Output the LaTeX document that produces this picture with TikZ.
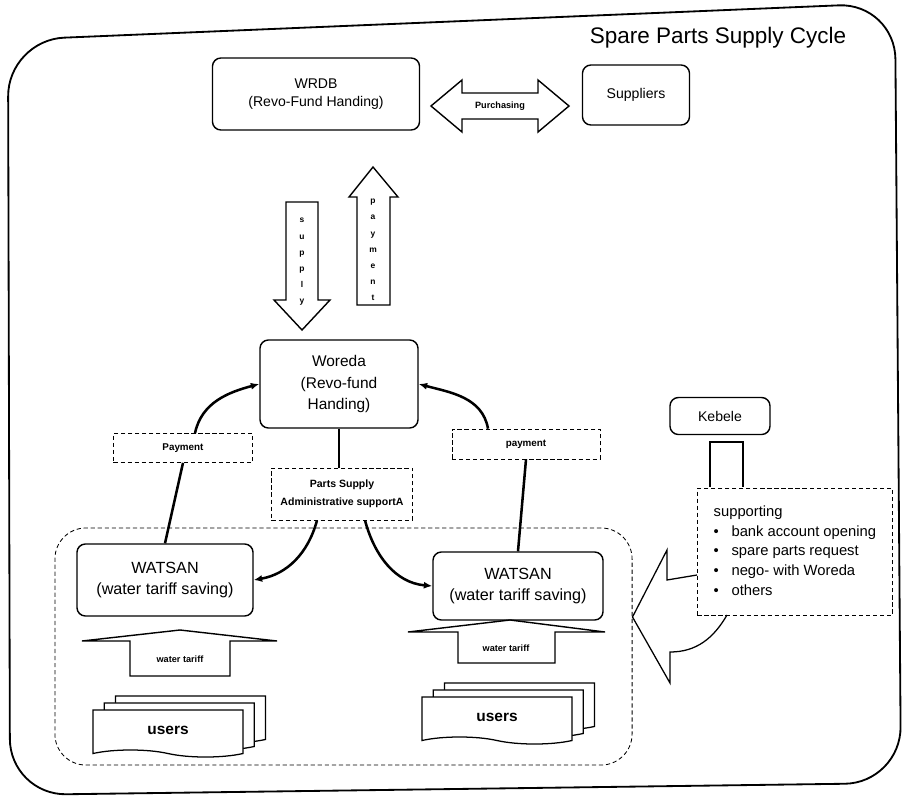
\documentclass[tikz,border=0pt]{standalone}
\usepackage{fontspec}
\setmainfont{Liberation Sans}
\usetikzlibrary{arrows.meta, shapes.symbols, shadows, calc}

\begin{document}
\begin{tikzpicture}[
    x=0.025cm, y=-0.025cm,
    font=\fontsize{10}{13}\selectfont,
    box/.style={draw, line width=1pt, rounded corners=6pt, align=center, inner sep=2pt},
    tagbox/.style={draw, densely dashed, line width=0.5pt, align=center, font=\fontsize{7}{10}\selectfont\bfseries},
    grpbox/.style={draw, densely dashed, line width=0.6pt, rounded corners=22pt},
    link/.style={line width=1.8pt},
    arrow/.style={link, -{Latex[length=6pt, width=5pt]}},
    block/.style={draw, line width=1pt, fill=white},
    spelled/.style={align=center, font=\fontsize{6}{11.5}\selectfont\bfseries},
    doc/.style={draw, line width=0.9pt, fill=white, tape, tape bend top=none,
        tape bend bottom=out and in, tape bend height=5pt,
        double copy shadow={shadow xshift=8pt, shadow yshift=5pt, line width=0.9pt},
        minimum width=3.75cm, minimum height=1.175cm, font=\fontsize{11}{13}\selectfont\bfseries},
]
\useasboundingbox (0,0) rectangle (903,797);

% outer frame
\draw[line width=1.3pt, rounded corners=40pt] (8,40) -- (895,3) -- (901,783) -- (10,795) -- cycle;
\node[font=\fontsize{16}{18}\selectfont] (title) at (718,38) {Spare Parts Supply Cycle};

% top level
\node[box, minimum width=5.175cm, minimum height=1.8cm] (wrdb) at (316,94) {WRDB\\(Revo-Fund Handing)};
\node[box, minimum width=2.675cm, minimum height=1.5cm] (suppliers) at (636,95) {Suppliers};
\draw[block] (431,106) -- (462,80) -- (462,93) -- (538,93) -- (538,80) -- (569,106)
    -- (538,132) -- (538,119) -- (462,119) -- (462,132) -- cycle;
\node[font=\fontsize{6.5}{8}\selectfont\bfseries] (purch) at (500,106) {Purchasing};

% supply / payment between WRDB and Woreda
\draw[block] (286,202) -- (318,202) -- (318,300) -- (330,300) -- (302,330) -- (274,300) -- (286,300) -- cycle;
\node[spelled] (supply) at (302,262) {s\\u\\p\\p\\l\\y};
\draw[block] (357,305) -- (357,197) -- (349,197) -- (373,167) -- (398,197) -- (390,197) -- (390,305) -- cycle;
\node[spelled] (pay) at (373,250) {p\\a\\y\\m\\e\\n\\t};

% Woreda level
\node[box, minimum width=3.95cm, minimum height=2.2cm, font=\fontsize{11}{15.5}\selectfont] (woreda) at (339,384) {Woreda\\(Revo-fund\\Handing)};
\node[tagbox, minimum width=3.475cm, minimum height=0.725cm] (payL) at (183,448) {Payment};
\node[tagbox, minimum width=3.7cm, minimum height=0.75cm] (payR) at (526,444) {payment};
\node[tagbox, minimum width=3.525cm, minimum height=1.3cm, font=\fontsize{7.5}{13}\selectfont\bfseries] (parts) at (342,494) {Parts Supply\\Administrative supportA};

% WATSAN group
\node[grpbox, minimum width=14.425cm, minimum height=5.925cm] (grp) at (343.5,646.5) {};
\node[box, minimum width=4.4cm, minimum height=1.8cm, font=\fontsize{11.5}{15.5}\selectfont] (watsanL) at (165,580) {WATSAN\\(water tariff saving)};
\node[box, minimum width=4.25cm, minimum height=1.7cm, font=\fontsize{11.5}{15.5}\selectfont] (watsanR) at (518,586) {WATSAN\\(water tariff saving)};

\draw[block] (130,676) -- (130,641) -- (82,641) -- (180,630) -- (277,641) -- (230,641) -- (230,676) -- cycle;
\node[font=\fontsize{6.5}{8}\selectfont\bfseries] (tariffL) at (180,659) {water tariff};
\draw[block] (458,663) -- (458,632) -- (408,632) -- (510,620) -- (605,632) -- (555,632) -- (555,663) -- cycle;
\node[font=\fontsize{6.5}{8}\selectfont\bfseries] (tariffR) at (506,648) {water tariff};

\node[doc] (usersL) at (168,730) {users};
\node[doc] (usersR) at (497,717) {users};

% cycle connectors
\draw[link] (watsanL.north) -- (payL.south);
\draw[arrow] ($(payL.north)+(12,0)$) to[out=78, in=195] (woreda.west);
\draw[link] (watsanR.north) -- (payR.south);
\draw[arrow] ($(payR.north)+(-38,0)$) to[out=100, in=-15] (woreda.east);
\draw[link] (woreda.south) -- (woreda.south |- parts.north);
\draw[arrow] ($(parts.south)+(-25,0)$) to[out=-105, in=10] (watsanL.east);
\draw[arrow] ($(parts.south)+(23,0)$) to[out=-75, in=175] (watsanR.west);

% Kebele callout
\node[box, minimum width=2.5cm, minimum height=0.925cm] (kebele) at (720,416) {Kebele};
\node[draw, densely dashed, line width=0.5pt, anchor=north west, minimum width=4.875cm, minimum height=3.175cm,
    inner xsep=6pt, align=left, font=\fontsize{10.5}{14}\selectfont] (support) at (697,488)
    {\begin{tabular}{@{}l@{\hspace{9pt}}l@{}}
     \multicolumn{2}{@{}l}{supporting}\\
     \textbullet & bank account opening\\
     \textbullet & spare parts request\\
     \textbullet & nego- with Woreda\\
     \textbullet & others
     \end{tabular}};
\coordinate (tip) at (grp.east |- 0,617);
\draw[line width=0.9pt] (710,487) -- (710,442) -- (743,442) -- (743,487);
\draw[line width=0.9pt] (697,575) -- (667,580) -- (667,550) -- (tip) -- (670,683) -- (670,652)
    to[out=0, in=-120] (727,615);
\end{tikzpicture}
\end{document}
